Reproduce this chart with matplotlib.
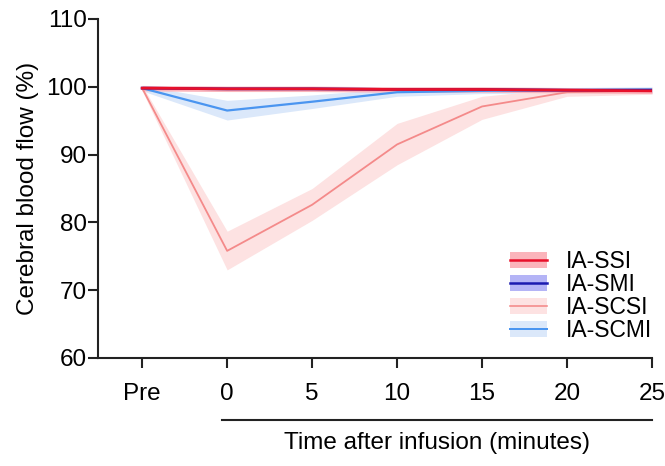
import matplotlib
matplotlib.use("Agg")
import matplotlib.pyplot as plt
from matplotlib.patches import Patch
from matplotlib.lines import Line2D
import numpy as np

plt.rcParams['font.family'] = ['Liberation Sans', 'DejaVu Sans']

tick_labels = ["Pre", "0", "5", "10", "15", "20", "25"]
series_names = ["IA-SSI", "IA-SMI", "IA-SCSI", "IA-SCMI"]

ssi_mean = [99.8, 99.7, 99.7, 99.6, 99.6, 99.5, 99.4]
ssi_lo   = [99.4, 99.3, 99.3, 99.2, 99.2, 99.1, 99.0]
ssi_hi   = [100.2, 100.1, 100.1, 100.0, 100.0, 99.9, 99.8]

smi_mean = [99.8, 99.7, 99.7, 99.6, 99.6, 99.5, 99.5]
smi_lo   = [99.5, 99.4, 99.4, 99.3, 99.3, 99.2, 99.2]
smi_hi   = [100.1, 100.0, 100.0, 99.9, 99.9, 99.8, 99.8]

scsi_mean = [99.8, 75.8, 82.6, 91.5, 97.1, 99.2, 99.4]
scsi_lo   = [99.4, 73.0, 80.3, 88.5, 95.2, 98.6, 98.9]
scsi_hi   = [100.2, 78.7, 85.0, 94.6, 98.6, 99.8, 99.9]

scmi_mean = [99.8, 96.5, 97.8, 99.2, 99.4, 99.5, 99.6]
scmi_lo   = [99.4, 95.1, 96.8, 98.6, 99.0, 99.1, 99.2]
scmi_hi   = [100.2, 98.0, 98.8, 99.8, 99.8, 99.9, 100.0]

colors_line = ["#e8102a", "#1a1ab0", "#f48a8a", "#4a95f0"]
colors_fill = ["#fbb4bb", "#b4b4f6", "#fde2e2", "#dbe8fa"]
lws = [2.0, 2.0, 1.3, 1.6]

x = np.arange(len(tick_labels))

fig = plt.figure(figsize=(6.65, 4.66), dpi=100)
ax = fig.add_axes([98/665, 1-358/466, (652-98)/665, (358-19)/466])

data = [(ssi_mean, ssi_lo, ssi_hi), (smi_mean, smi_lo, smi_hi),
        (scsi_mean, scsi_lo, scsi_hi), (scmi_mean, scmi_lo, scmi_hi)]
order = [3, 2, 1, 0]
for i in order:
    m, lo, hi = data[i]
    ax.fill_between(x, lo, hi, color=colors_fill[i], lw=0, zorder=1)
for i in order:
    m, lo, hi = data[i]
    ax.plot(x, m, color=colors_line[i], lw=lws[i], zorder=3)

fs = 17.5
ax.set_xlim(-0.52, 6)
ax.set_ylim(60, 110)
ax.set_yticks([60, 70, 80, 90, 100, 110])
ax.set_xticks(x)
ax.set_xticklabels(tick_labels)
ax.tick_params(axis='both', labelsize=fs, width=1.5, length=7, color='#222222')
ax.tick_params(axis='x', pad=11)
ax.tick_params(axis='y', pad=1)
for s in ['top', 'right']:
    ax.spines[s].set_visible(False)
for s in ['left', 'bottom']:
    ax.spines[s].set_linewidth(1.5)
    ax.spines[s].set_color('#222222')

ax.set_ylabel("Cerebral blood flow (%)", fontsize=fs, labelpad=5)

# underline bracket and x label
y_line = 1 - 420/466
fig.add_artist(Line2D([(222)/665, 652/665], [y_line, y_line], color='#222222', lw=1.5))
fig.text((222+652)/2/665, 1-443/466, "Time after infusion (minutes)", ha='center', va='center', fontsize=fs)

handles = []
for i in range(4):
    handles.append((Patch(facecolor=colors_fill[i], edgecolor='none'),
                    Line2D([], [], color=colors_line[i], lw=lws[i] * 0.9)))
ax.legend(handles, series_names, loc='lower right', bbox_to_anchor=(1.03, 0.0),
          frameon=False, fontsize=16.5, handlelength=1.6, handleheight=0.7,
          labelspacing=0.0, handletextpad=0.85, borderpad=0.2)

fig.savefig("out.png", dpi=100)
